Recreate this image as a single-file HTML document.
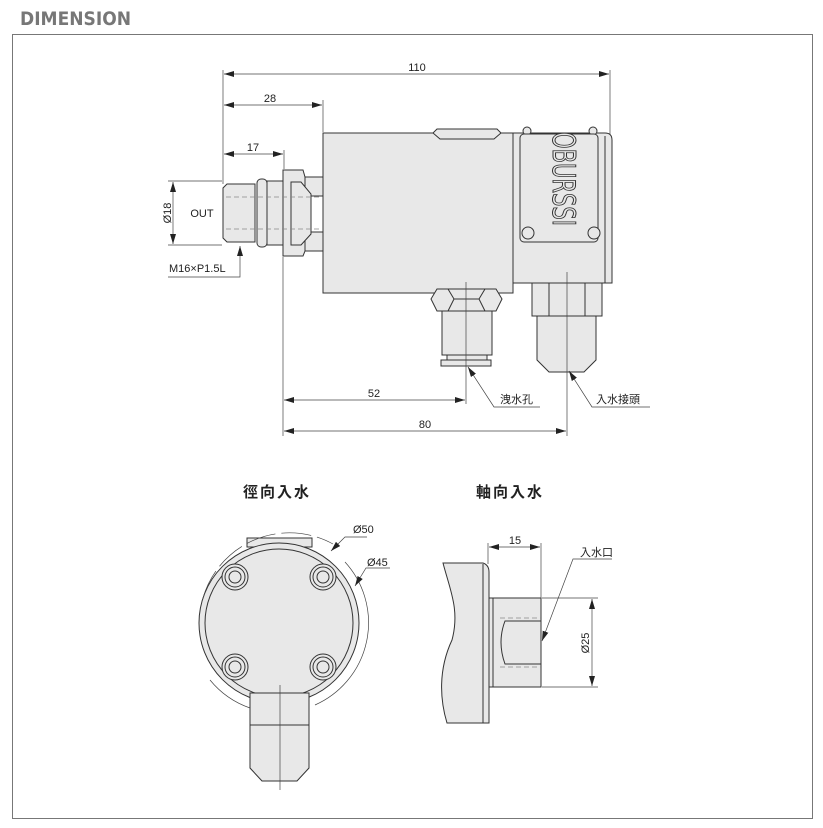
<!DOCTYPE html>
<html><head><meta charset="utf-8"><style>
html,body{margin:0;padding:0;background:#fff;width:823px;height:828px;overflow:hidden}
svg{display:block}
text{font-family:"Liberation Sans","Noto Sans CJK TC",sans-serif;fill:#222}
</style></head><body>
<svg width="823" height="828" viewBox="0 0 823 828" xmlns="http://www.w3.org/2000/svg">
<defs>
<marker id="a" viewBox="0 0 10 6" refX="10" refY="3" markerWidth="10" markerHeight="6" orient="auto-start-reverse" markerUnits="userSpaceOnUse"><path d="M0,0L10,3L0,6z" fill="#222"/></marker>
</defs>
<text x="20" y="25" style="font-size:19px;font-weight:bold;fill:#777;font-family:'DejaVu Sans Condensed','Liberation Sans',sans-serif">DIMENSION</text>
<rect x="12.5" y="34.5" width="800" height="784" fill="none" stroke="#777" stroke-width="1"/>

<g stroke="#333" stroke-width="1" fill="#e8e8e8">
<rect x="323" y="133" width="190" height="160"/>
<path d="M433,133 L437,129 L497,129 L501,133 L494,139 L440,139 Z"/>
<path d="M513,133 L605,133 Q612,133 612,140 L612,283 L513,283 Z"/>
<line x1="605" y1="136" x2="605" y2="283"/>
<circle cx="527" cy="131" r="4"/><circle cx="593" cy="131" r="4"/>
<rect x="520" y="134" width="78" height="108" rx="4"/>
<circle cx="528" cy="233" r="6"/><circle cx="594" cy="233" r="6"/>
<path d="M305,177 L323,177 L323,196 L305,196 Z M305,232 L323,232 L323,251 L305,251 Z"/>
<path d="M283,170 L303,170 L305,177 L305,251 L303,256 L283,256 Z"/>
<path d="M291,182 L301,182 L311,194 L311,234 L301,245 L291,245 Z" fill="#e8e8e8"/>
<rect x="267" y="181" width="16" height="64"/>
<rect x="257" y="179" width="10" height="68" rx="4"/>
<path d="M227,184 L255,184 L255,242 L227,242 L223,238 L223,188 Z"/>
<rect x="442" y="311" width="50" height="44"/>
<path d="M431,299 L437,289 L496,289 L502,299 L496,311 L437,311 Z"/>
<path d="M448,289 L454,299 L448,311 M485,289 L479,299 L485,311 M454,299 L479,299" fill="none"/>
<rect x="447" y="355" width="40" height="5"/>
<rect x="441" y="360" width="50" height="6"/>
<rect x="532" y="283" width="70" height="33"/>
<line x1="549" y1="283" x2="549" y2="316"/><line x1="585" y1="283" x2="585" y2="316"/>
<path d="M537,316 L596,316 L596,360 L584,372 L549,372 L537,360 Z"/>
</g>
<g stroke="#888" stroke-width="0.8" stroke-dasharray="5,3" fill="none">
<line x1="226" y1="197" x2="320" y2="197"/><line x1="226" y1="229" x2="320" y2="229"/>
</g>
<text transform="translate(553,132) rotate(90)" style="font-size:31px;fill:#e8e8e8;stroke:#333;stroke-width:1;font-family:'DejaVu Sans Condensed','Liberation Sans Narrow',sans-serif" textLength="94" lengthAdjust="spacingAndGlyphs">OBURSSI</text>

<g stroke="#444" stroke-width="0.7" fill="none">
<line x1="223" y1="70" x2="223" y2="184"/>
<line x1="610" y1="70" x2="610" y2="135"/>
<line x1="323" y1="100" x2="323" y2="132"/>
<line x1="284" y1="150" x2="284" y2="169"/>
<line x1="224" y1="74" x2="609" y2="74" marker-start="url(#a)" marker-end="url(#a)"/>
<line x1="224" y1="105" x2="322" y2="105" marker-start="url(#a)" marker-end="url(#a)"/>
<line x1="224" y1="154" x2="283" y2="154" marker-start="url(#a)" marker-end="url(#a)"/>
<line x1="168" y1="181" x2="222" y2="181"/><line x1="168" y1="245" x2="222" y2="245"/>
<line x1="173" y1="182" x2="173" y2="244" marker-start="url(#a)" marker-end="url(#a)"/>
<polyline points="168,277 240,277 240,246" marker-end="url(#a)"/>
<line x1="283" y1="257" x2="283" y2="436"/>
<line x1="466" y1="282" x2="466" y2="404"/>
<line x1="567" y1="272" x2="567" y2="436"/>
<line x1="284" y1="400" x2="465" y2="400" marker-start="url(#a)" marker-end="url(#a)"/>
<line x1="284" y1="431" x2="566" y2="431" marker-start="url(#a)" marker-end="url(#a)"/>
<polyline points="540,407 494,407 468,367" marker-end="url(#a)"/>
<polyline points="650,407 592,407 569,371" marker-end="url(#a)"/>
</g>
<g style="font-size:11px" text-anchor="middle">
<text x="417" y="71">110</text><text x="270" y="102">28</text><text x="253" y="151">17</text>
<text x="374" y="397">52</text><text x="425" y="428">80</text>
<text x="202" y="217">OUT</text>
<text transform="translate(171,213) rotate(-90)">Ø18</text>
</g>
<text x="169" y="272" style="font-size:11px">M16×P1.5L</text>
<text x="500" y="403" style="font-size:11px">洩水孔</text>
<text x="596" y="403" style="font-size:11px">入水接頭</text>

<text x="277" y="497" text-anchor="middle" style="font-size:15px;font-weight:bold;letter-spacing:2px">徑向入水</text>
<text x="510" y="497" text-anchor="middle" style="font-size:15px;font-weight:bold;letter-spacing:2px">軸向入水</text>

<g stroke="#333" stroke-width="1" fill="#e8e8e8">
<rect x="247" y="538" width="65" height="9"/>
<circle cx="279" cy="623" r="80"/>
<circle cx="279" cy="623" r="74" fill="none"/>
<circle cx="235" cy="577" r="13"/><circle cx="235" cy="577" r="10" fill="none"/><circle cx="235" cy="577" r="6"/>
<circle cx="323" cy="577" r="13"/><circle cx="323" cy="577" r="10" fill="none"/><circle cx="323" cy="577" r="6"/>
<circle cx="235" cy="667" r="13"/><circle cx="235" cy="667" r="10" fill="none"/><circle cx="235" cy="667" r="6"/>
<circle cx="323" cy="667" r="13"/><circle cx="323" cy="667" r="10" fill="none"/><circle cx="323" cy="667" r="6"/>
<rect x="250" y="693" width="59" height="32"/>
<path d="M250,725 L309,725 L309,768 L297,781 L262,781 L250,768 Z"/>
</g>
<g stroke="#444" stroke-width="0.7" fill="none">
<path d="M203,598 A90,90 0 0 1 333,544" stroke-dasharray="30,6"/>
<path d="M345,562 A90,90 0 0 1 315,705"/>
<path d="M210,680 A90,90 0 0 0 250,708"/>
<line x1="280" y1="685" x2="280" y2="790"/>
<polyline points="367,537 345,537 331,551" marker-end="url(#a)"/>
<polyline points="390,568 366,568 355,586" marker-end="url(#a)"/>
</g>
<text x="353" y="533" style="font-size:11px">Ø50</text>
<text x="367" y="566" style="font-size:11px">Ø45</text>

<g stroke="#333" stroke-width="1" fill="#e8e8e8">
<path d="M443,563 L483,563 Q489,565 489,572 L489,723 L447,723 C440,700 438,670 452,640 C460,610 450,590 443,563 Z"/>
<line x1="483" y1="564" x2="483" y2="723"/>
<rect x="489" y="598" width="52" height="89"/>
<line x1="493" y1="598" x2="493" y2="687"/>
<path d="M505,621 L541,621 L541,664 L505,664 Q497,642 505,621 Z"/>
</g>
<g stroke="#888" stroke-width="0.8" stroke-dasharray="5,3" fill="none">
<line x1="500" y1="618" x2="541" y2="618"/><line x1="500" y1="667" x2="541" y2="667"/>
</g>
<g stroke="#444" stroke-width="0.7" fill="none">
<line x1="488" y1="543" x2="488" y2="564"/>
<line x1="541" y1="543" x2="541" y2="598"/>
<line x1="489" y1="547" x2="540" y2="547" marker-start="url(#a)" marker-end="url(#a)"/>
<line x1="542" y1="598" x2="598" y2="598"/><line x1="542" y1="687" x2="598" y2="687"/>
<line x1="592" y1="599" x2="592" y2="686" marker-start="url(#a)" marker-end="url(#a)"/>
<polyline points="612,559 573,559 542,641" marker-end="url(#a)"/>
</g>
<text x="515" y="544" text-anchor="middle" style="font-size:11px">15</text>
<text x="580" y="556" style="font-size:11px">入水口</text>
<text transform="translate(589,643) rotate(-90)" text-anchor="middle" style="font-size:11px">Ø25</text>
</svg>
</body></html>
